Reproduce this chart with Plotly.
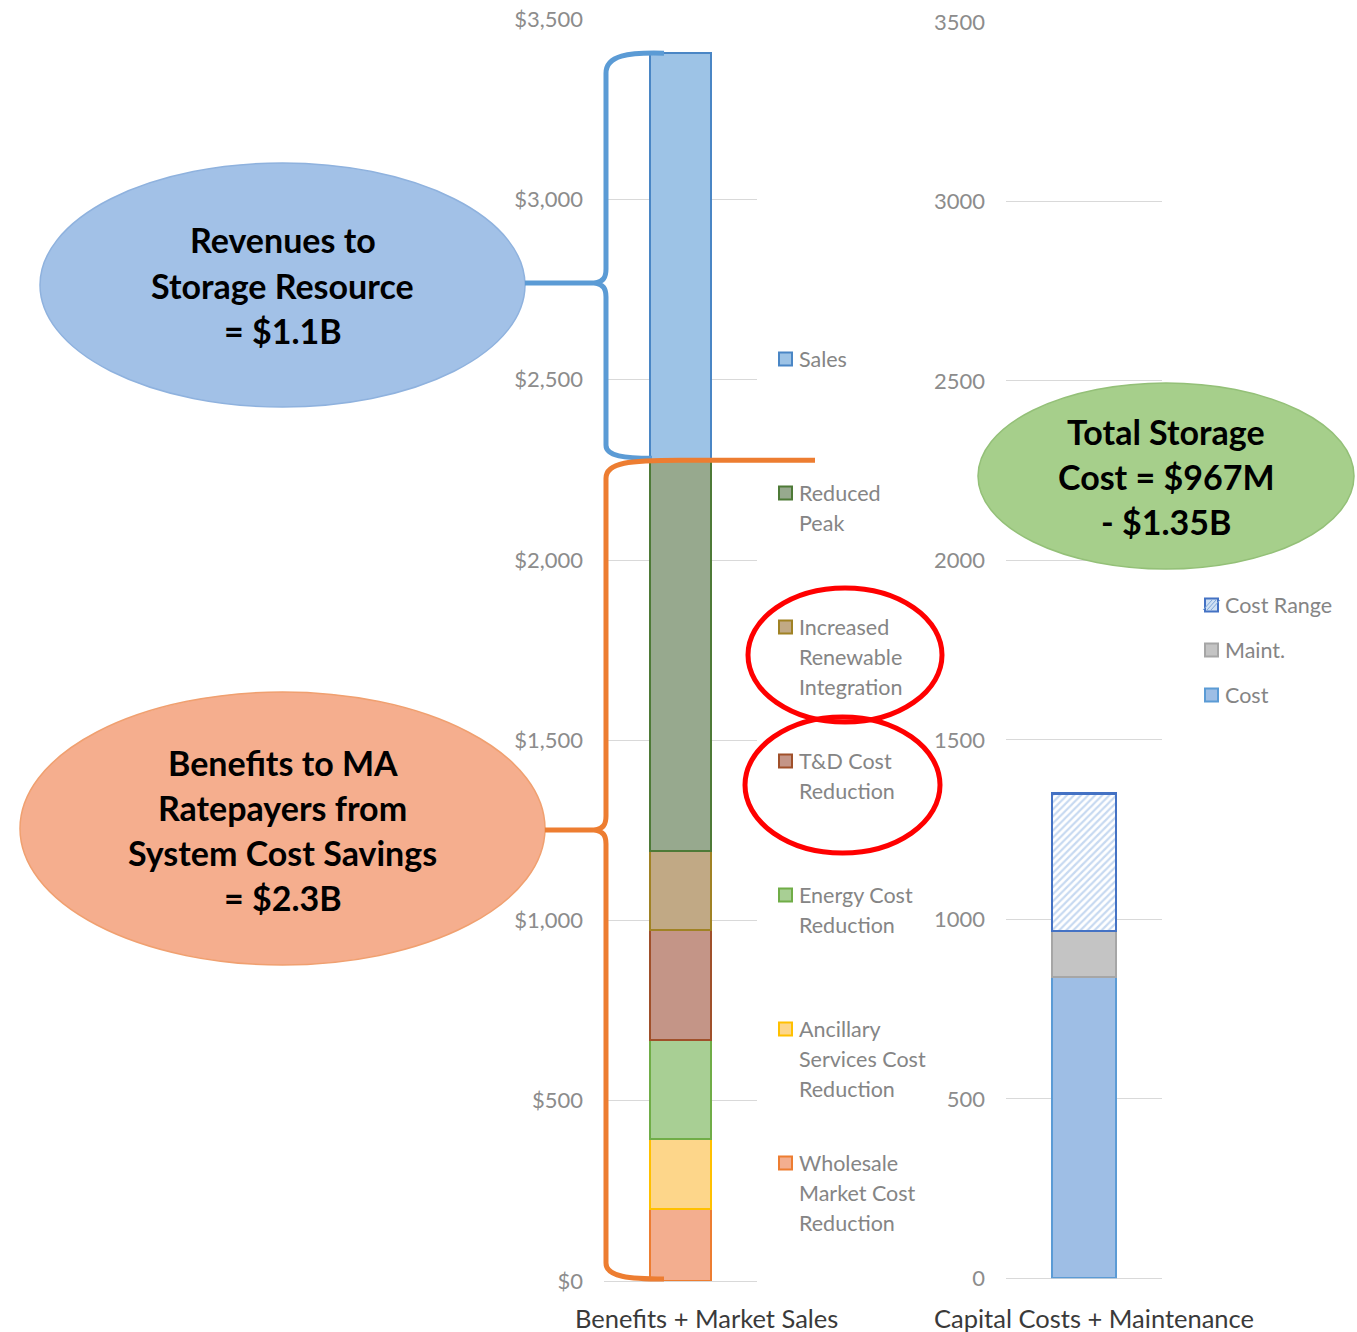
import plotly.graph_objects as go

# ---------------- data ----------------
categories = ["Benefits + Market Sales", "Capital Costs + Maintenance"]

# left stacked bar (bottom -> top), $M
benefit_labels = ["Wholesale<br>Market Cost<br>Reduction",
                  "Ancillary<br>Services Cost<br>Reduction",
                  "Energy Cost<br>Reduction",
                  "T&D Cost<br>Reduction",
                  "Increased<br>Renewable<br>Integration",
                  "Reduced<br>Peak",
                  "Sales"]
benefit_values = [199, 195, 274, 307, 218, 1081, 1132]
benefit_fill = ["#f3ae8f", "#fdd68a", "#a8cf94", "#c49587", "#c1a985", "#97a98e", "#9dc3e6"]
benefit_line = ["#ed7d31", "#ffc000", "#70ad47", "#a0502a", "#a08224", "#4e7a37", "#4a86c5"]

# right stacked bar (bottom -> top), $M
cost_labels = ["Cost", "Maint.", "Cost Range"]
cost_values = [840, 127, 383]
cost_fill = ["#9ebee5", "#c4c4c4", "#ffffff"]
cost_line = ["#5b9bd5", "#a6a6a6", "#4472c4"]

left_ticks = [0, 500, 1000, 1500, 2000, 2500, 3000, 3500]
right_ticks = [0, 500, 1000, 1500, 2000, 2500, 3000, 3500]

bubble_revenue = ["Revenues to", "Storage Resource", "= $1.1B"]
bubble_benefit = ["Benefits to MA", "Ratepayers from", "System Cost Savings", "= $2.3B"]
bubble_cost = ["Total Storage", "Cost = $967M", "- $1.35B"]

# ---------------- geometry helpers ----------------
W, H = 1357, 1332
FONT = "Lato"


def px(x):
    return x / W


def py(y):
    return 1 - y / H


L_Y0, L_Y1 = 1281.0, 19.3     # pixel rows of 0 and 3500 (left)
R_Y0, R_Y1 = 1278.3, 21.8     # right


def ly(v):
    return L_Y0 - v * (L_Y0 - L_Y1) / 3500.0


fig = go.Figure()

# left bars
for lab, v, fc, lc in zip(benefit_labels, benefit_values, benefit_fill, benefit_line):
    fig.add_trace(go.Bar(
        x=[categories[0]], y=[v], name=lab.replace("<br>", " "),
        marker=dict(color=fc, line=dict(color=lc, width=2)),
        width=0.404, xaxis="x", yaxis="y", showlegend=False,
        hoverinfo="name+y"))

# right bars
for lab, v, fc, lc in zip(cost_labels, cost_values, cost_fill, cost_line):
    marker = dict(color=fc, line=dict(color=lc, width=2.5 if lab == "Cost Range" else 2))
    if lab == "Cost Range":
        marker["pattern"] = dict(shape="/", fgcolor="#8fb4e3", bgcolor="#ffffff",
                                 size=5, solidity=0.45)
    fig.add_trace(go.Bar(
        x=[categories[1]], y=[v], name=lab, marker=marker,
        width=0.413, xaxis="x2", yaxis="y2", showlegend=False,
        hoverinfo="name+y"))

axis_common = dict(showgrid=True, gridcolor="#d9d9d9", gridwidth=1,
                   zeroline=True, zerolinecolor="#d9d9d9", zerolinewidth=1,
                   showline=False, ticks="", range=[0, 3500], automargin=False,
                   tickfont=dict(family=FONT, size=22, color="#8c8c8c"),
                   ticklabelstandoff=20, fixedrange=True)

xaxis_common = dict(range=[-0.5, 0.5], showticklabels=False, showgrid=False,
                    zeroline=False, showline=False, fixedrange=True, automargin=False)

fig.update_layout(
    width=W, height=H, margin=dict(l=0, r=0, t=0, b=0, pad=0, autoexpand=False),
    paper_bgcolor="white", plot_bgcolor="rgba(0,0,0,0)",
    barmode="stack", showlegend=False,
    xaxis=dict(domain=[px(604), px(757)], anchor="y", **xaxis_common),
    xaxis2=dict(domain=[px(1006), px(1162)], anchor="y2", **xaxis_common),
    yaxis=dict(domain=[py(L_Y0), py(L_Y1)], tickvals=left_ticks,
               ticktext=["$" + f"{t:,}" for t in left_ticks], anchor="x", **axis_common),
    yaxis2=dict(domain=[py(R_Y0), py(R_Y1)], tickvals=right_ticks,
                ticktext=[str(t) for t in right_ticks], anchor="x2", **axis_common),
)

shapes = []
annotations = []

# category labels
annotations.append(dict(x=px(706), y=py(1318), xref="paper", yref="paper",
                        text=categories[0], showarrow=False, xanchor="center", yanchor="middle",
                        font=dict(family=FONT, size=25.5, color="#3a3a3a")))
annotations.append(dict(x=px(1094), y=py(1318), xref="paper", yref="paper",
                        text=categories[1], showarrow=False, xanchor="center", yanchor="middle",
                        font=dict(family=FONT, size=25.5, color="#3a3a3a")))

# left legend (top -> bottom)
for i, idx in enumerate(reversed(range(len(benefit_labels)))):
    y0 = 359 + i * 134
    shapes.append(dict(type="rect", xref="paper", yref="paper",
                       x0=px(779), x1=px(792), y0=py(y0 + 6.5), y1=py(y0 - 6.5),
                       fillcolor=benefit_fill[idx], line=dict(color=benefit_line[idx], width=2),
                       layer="above"))
    for j, line in enumerate(benefit_labels[idx].split("<br>")):
        annotations.append(dict(x=px(797), y=py(y0 + j * 30), xref="paper", yref="paper",
                                text=line, showarrow=False, xanchor="left", yanchor="middle",
                                font=dict(family=FONT, size=21.5, color="#858585")))

# right legend (top -> bottom)
for i, idx in enumerate(reversed(range(len(cost_labels)))):
    y0 = 605 + i * 45
    fill = cost_fill[idx] if cost_labels[idx] != "Cost Range" else "#cfe0f3"
    shapes.append(dict(type="rect", xref="paper", yref="paper",
                       x0=px(1205), x1=px(1218), y0=py(y0 + 6.5), y1=py(y0 - 6.5),
                       fillcolor=fill, line=dict(color=cost_line[idx], width=2), layer="above"))
    if cost_labels[idx] == "Cost Range":
        for k in (-4, 0, 4):
            shapes.append(dict(type="line", xref="paper", yref="paper",
                               x0=px(1207 + k), y0=py(y0 + 5), x1=px(1216 + k), y1=py(y0 - 5),
                               line=dict(color="#7fa7d9", width=1), layer="above"))
    annotations.append(dict(x=px(1223), y=py(y0), xref="paper", yref="paper",
                            text=cost_labels[idx], showarrow=False, xanchor="left", yanchor="middle",
                            font=dict(family=FONT, size=21.5, color="#858585")))


# bubbles
def bubble(x0, y0, x1, y1, fill, edge, lines, first_y, step, size):
    shapes.append(dict(type="circle", xref="paper", yref="paper",
                       x0=px(x0), x1=px(x1), y0=py(y1), y1=py(y0),
                       fillcolor=fill, line=dict(color=edge, width=1.5), layer="above"))
    cx = (x0 + x1) / 2
    for j, t in enumerate(lines):
        annotations.append(dict(x=px(cx), y=py(first_y + j * step), xref="paper", yref="paper",
                                text="<b>" + t + "</b>", showarrow=False,
                                xanchor="center", yanchor="middle",
                                font=dict(family=FONT, size=size, color="#000000")))


bubble(40, 163, 525, 407, "#a2c1e7", "#8fb2de", bubble_revenue, 240, 45, 34)
bubble(20, 692, 545, 965, "#f5ae8e", "#f0a070", bubble_benefit, 762, 45.3, 34)
bubble(978, 383, 1354, 569, "#a6cf8b", "#94c078", bubble_cost, 431, 45, 34)


def path(pts_cmds):
    out = []
    for c in pts_cmds:
        if isinstance(c, str):
            out.append(c)
        else:
            out.append(f"{px(c[0]):.5f},{py(c[1]):.5f}")
    return " ".join(out)


# braces tied to the stacked totals
benefit_total = sum(benefit_values[:-1])
all_total = sum(benefit_values)
top_b = ly(all_total)
bot_b = ly(benefit_total)
cusp_b = 283
blue = "#5b9bd5"
shapes.append(dict(type="path", xref="paper", yref="paper", layer="above",
                   line=dict(color=blue, width=5),
                   path=path(["M", (664, top_b), "C", (628, top_b - 1), (606, top_b + 2), (606, top_b + 20),
                              "L", (606, cusp_b - 14), "C", (606, cusp_b - 5), (603, cusp_b - 2), (596, cusp_b),
                              "C", (603, cusp_b + 2), (606, cusp_b + 5), (606, cusp_b + 14),
                              "L", (606, bot_b - 16), "C", (606, bot_b - 5), (625, bot_b - 3), (652, bot_b - 3)])))
shapes.append(dict(type="path", xref="paper", yref="paper", layer="above",
                   line=dict(color=blue, width=5),
                   path=path(["M", (525, cusp_b), "L", (598, cusp_b)])))

orange = "#ed7d31"
top_o = ly(benefit_total) - 1
bot_o = ly(0)
cusp_o = 830
shapes.append(dict(type="path", xref="paper", yref="paper", layer="above",
                   line=dict(color=orange, width=5),
                   path=path(["M", (815, top_o), "L", (680, top_o), "C", (630, top_o), (606, top_o + 2), (606, top_o + 18),
                              "L", (606, cusp_o - 14), "C", (606, cusp_o - 5), (603, cusp_o - 2), (596, cusp_o),
                              "C", (603, cusp_o + 2), (606, cusp_o + 5), (606, cusp_o + 14),
                              "L", (606, bot_o - 18), "C", (606, bot_o - 4), (630, bot_o - 2), (664, bot_o - 2)])))
shapes.append(dict(type="path", xref="paper", yref="paper", layer="above",
                   line=dict(color=orange, width=5),
                   path=path(["M", (545, cusp_o), "L", (598, cusp_o)])))

# red highlight circles
shapes.append(dict(type="circle", xref="paper", yref="paper", layer="above",
                   x0=px(748), x1=px(942), y0=py(722), y1=py(588),
                   line=dict(color="#ff0000", width=5), fillcolor="rgba(0,0,0,0)"))
shapes.append(dict(type="circle", xref="paper", yref="paper", layer="above",
                   x0=px(745), x1=px(940), y0=py(853), y1=py(717),
                   line=dict(color="#ff0000", width=5), fillcolor="rgba(0,0,0,0)"))

fig.update_layout(shapes=shapes, annotations=annotations)
fig.write_html("out.html")
